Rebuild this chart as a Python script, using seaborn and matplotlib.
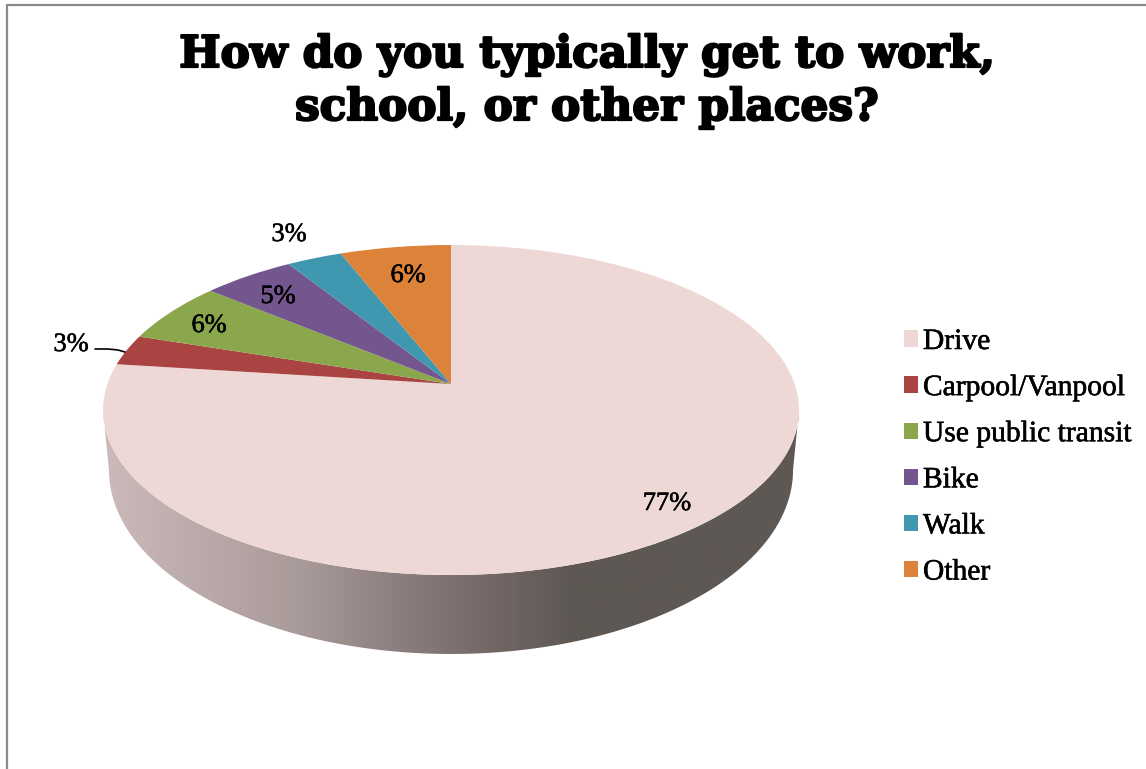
import numpy as np
import matplotlib
matplotlib.use("Agg")
import matplotlib.pyplot as plt
import matplotlib.patheffects as pe
import seaborn as sns
from matplotlib.path import Path
from matplotlib.patches import PathPatch
from matplotlib.transforms import Transform

categories = ["Drive", "Carpool/Vanpool", "Use public transit", "Bike", "Walk", "Other"]
shares = [77, 3, 6, 5, 3, 6]
slice_colors = ["#EED8D6", "#A94442", "#8AA74B", "#74568F", "#3F97B0", "#DC8239"]
title_text = "How do you typically get to work,\nschool, or other places?"
label_xy = [(667, 504), (71, 345), (209, 326), (278, 297), (289, 235), (408, 276)]

sns.set_theme(style="white", rc={"axes.facecolor": "white", "figure.facecolor": "white",
                                 "text.color": "black"})
plt.rcParams["font.family"] = ["Liberation Serif", "DejaVu Serif"]
palette = sns.color_palette(slice_colors)

CX, CY = 451.0, 384.0
A, B, C = 160.9, 0.1576, 343.6


class Tilt(Transform):
    """Perspective view of the unit pie disc, in figure pixels."""
    input_dims = output_dims = 2
    is_affine = False
    has_inverse = False

    def transform_non_affine(self, values):
        v = np.asarray(values, dtype=float)
        d = 1 + B * v[:, 1]
        return np.column_stack([CX + C * v[:, 0] / d, CY - A * v[:, 1] / d])

    def transform_path_non_affine(self, path):
        return Path(self.transform_non_affine(path.vertices), path.codes)


fig = plt.figure(figsize=(11.46, 7.69), dpi=100)
ax = fig.add_axes([0, 0, 1, 1])
wedges, _ = ax.pie(shares, colors=palette, startangle=90, counterclock=False, radius=1,
                   wedgeprops={"linewidth": 0})
tilt = Tilt()
for w in wedges:
    w.set_transform(tilt + ax.transData)
    w.set_zorder(3)

# side wall of the disc
t = np.linspace(np.pi + np.arcsin(B), 2 * np.pi - np.arcsin(B), 240)
rim = tilt.transform_non_affine(np.column_stack([np.cos(t), np.sin(t)]))
low = np.column_stack([CX + (rim[:, 0] - CX) * 0.983, 470 + (rim[:, 1] - 410) * 1.115])
wall = np.vstack([rim, low[::-1], rim[:1]])
codes = [Path.MOVETO] + [Path.LINETO] * (len(wall) - 2) + [Path.CLOSEPOLY]
clip = PathPatch(Path(wall, codes), transform=ax.transData, fc="none", ec="none")
ax.add_patch(clip)
stops = [(100, "#CDBBBB"), (200, "#BBAAAA"), (300, "#A99B99"), (400, "#8C7E7E"),
         (500, "#716664"), (570, "#5E5854"), (810, "#5E5854")]
xs = np.arange(100, 811)
rgb = np.array([matplotlib.colors.to_rgb(c) for _, c in stops])
grad = np.stack([np.interp(xs, [s for s, _ in stops], rgb[:, i]) for i in range(3)], axis=1)[None, :, :]
im = ax.imshow(grad, extent=(100, 810, 700, 380), aspect="auto", zorder=2)
im.set_clip_path(clip)

ax.set_xlim(0, 1146)
ax.set_ylim(769, 0)
ax.set_aspect("auto")
ax.axis("off")

# frame
ax.plot([1146, 6.5, 6.5], [4.5, 4.5, 769], color="#8A8A8A", lw=1.6, solid_joinstyle="miter", zorder=1)

ax.text(587, 81, title_text, ha="center", va="center", fontsize=31.5, fontweight="bold",
        family=["DejaVu Serif"], linespacing=1.28, color="black",
        path_effects=[pe.withStroke(linewidth=1.6, foreground="black")])

thin = [pe.withStroke(linewidth=0.4, foreground="black")]
for s, (x, y) in zip(shares, label_xy):
    ax.text(x, y, f"{s}%", ha="center", va="center", fontsize=19, color="black", zorder=5,
            path_effects=thin)

# leader line for the small slice
ax.plot([95, 108, 118, 125], [349, 349, 350, 352], color="black", lw=1.2, zorder=5)

leg = ax.legend(wedges, categories, loc="upper left", bbox_to_anchor=(896 / 1146, 1 - 321 / 769),
                bbox_transform=fig.transFigure, frameon=False, fontsize=21.3,
                handlelength=0.47, handleheight=0.47, handletextpad=0.17,
                labelspacing=0.68, borderpad=0.27, borderaxespad=0)
for txt in leg.get_texts():
    txt.set_path_effects(thin)

fig.savefig("out.png", dpi=100)
